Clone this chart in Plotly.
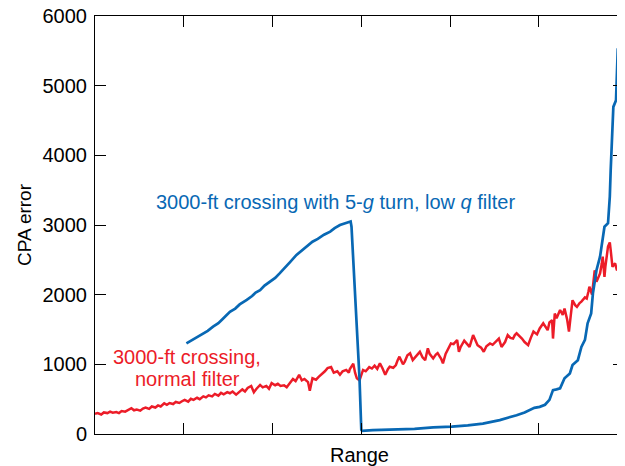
import plotly.graph_objects as go

# ---- data (x in arbitrary "Range" units, ticks at 1..5) ----
red_x = [0, .03, .07, .10, .14, .17, .20, .24, .27, .30, .34, .37, .41, .44, .47, .51, .54, .57, .61, .64,
         .68, .71, .74, .78, .81, .84, .88, .91, .95, .98, 1.01, 1.05, 1.08, 1.11, 1.15, 1.18, 1.22, 1.25, 1.28, 1.32,
         1.35, 1.39, 1.42, 1.45, 1.49, 1.52, 1.55, 1.59, 1.62, 1.66, 1.69, 1.72, 1.76, 1.79, 1.82, 1.86, 1.89, 1.93, 1.96, 1.99,
         2.03, 2.06, 2.09, 2.13, 2.16, 2.20, 2.23, 2.26, 2.30, 2.33, 2.36, 2.40, 2.42, 2.45, 2.49, 2.52, 2.56, 2.59, 2.62, 2.66,
         2.69, 2.73, 2.76, 2.79, 2.83, 2.86, 2.87, 2.91, 2.93, 2.95, 2.98, 3.02, 3.05, 3.09, 3.12, 3.15, 3.18, 3.21, 3.24, 3.27,
         3.30, 3.32, 3.36, 3.39, 3.41, 3.43, 3.47, 3.49, 3.52, 3.55, 3.58, 3.60, 3.64, 3.66, 3.69, 3.72, 3.75, 3.77, 3.81, 3.84,
         3.86, 3.90, 3.92, 3.95, 3.98, 4.01, 4.04, 4.08, 4.10, 4.12, 4.16, 4.19, 4.22, 4.26, 4.29, 4.31, 4.35, 4.38, 4.41, 4.45,
         4.48, 4.52, 4.55, 4.58, 4.62, 4.65, 4.68, 4.71, 4.73, 4.75, 4.79, 4.81, 4.84, 4.88, 4.91, 4.94, 4.98, 5.01, 5.05, 5.08,
         5.10, 5.12, 5.15, 5.16, 5.18, 5.20, 5.24, 5.27, 5.29, 5.32, 5.34, 5.36, 5.38, 5.41, 5.43, 5.46, 5.48, 5.52, 5.54, 5.56,
         5.57, 5.60, 5.62, 5.63, 5.65, 5.68, 5.69, 5.71, 5.72, 5.74, 5.75, 5.78, 5.80, 5.81, 5.83, 5.86, 5.88, 5.90, 5.91, 5.93,
         5.95, 5.96]
red_y = [290, 300, 280, 310, 300, 320, 305, 315, 300, 330, 320, 345, 370, 340, 350, 335, 365, 380, 360, 395,
         380, 410, 395, 440, 420, 445, 430, 460, 445, 470, 490, 465, 505, 490, 520, 500, 540, 525, 555, 540,
         575, 550, 590, 570, 600, 585, 610, 565, 600, 640, 610, 660, 690, 600, 650, 705, 670, 690, 650, 730,
         700, 720, 690, 700, 670, 740, 790, 760, 850, 770, 790, 745, 620, 800, 780, 820, 860, 900, 945, 960,
         880, 900, 850, 900, 920, 880, 930, 1010, 880, 800, 770, 920, 900, 960, 940, 980, 935, 1015, 940, 850,
         930, 965, 950, 990, 1060, 1110, 1000, 1040, 1130, 1160, 1060, 1085, 1150, 1180, 1100, 1060, 1230, 1150, 1085, 1140,
         1160, 1080, 1015, 1150, 1230, 1300, 1290, 1350, 1180, 1250, 1340, 1300, 1250, 1420, 1330, 1275, 1240, 1180, 1260, 1300,
         1280, 1340, 1370, 1250, 1320, 1420, 1380, 1370, 1420, 1445, 1400, 1370, 1320, 1275, 1380, 1470, 1430, 1515, 1590, 1520,
         1490, 1600, 1635, 1370, 1730, 1660, 1780, 1710, 1800, 1640, 1470, 1700, 1920, 1850, 1825, 1880, 1900, 1960, 1945, 2050,
         2115, 2000, 2250, 2350, 2185, 2280, 2305, 2450, 2545, 2255, 2400, 2690, 2750, 2640, 2400, 2450, 2350, 2380, 2280, 2065,
         2100, 2040]

blue_x = [1.03, 1.10, 1.16, 1.22, 1.27, 1.33, 1.39, 1.43, 1.48, 1.52, 1.58, 1.63, 1.71, 1.77, 1.81, 1.86, 1.91, 1.97, 2.03, 2.08,
          2.14, 2.20, 2.27, 2.33, 2.39, 2.45, 2.51, 2.58, 2.65, 2.70, 2.76, 2.81, 2.88, 2.89, 2.91, 2.93, 2.95, 2.96, 2.98, 3.00,
          3.01, 3.13, 3.27, 3.43, 3.60, 3.81, 4.02, 4.20, 4.37, 4.56, 4.67, 4.75, 4.84, 4.90, 4.95, 5.01, 5.07, 5.12, 5.16, 5.20,
          5.24, 5.29, 5.35, 5.38, 5.44, 5.48, 5.52, 5.55, 5.59, 5.61, 5.65, 5.69, 5.72, 5.74, 5.78, 5.80, 5.81, 5.83, 5.84, 5.87,
          5.88, 5.89, 5.90, 5.91, 5.92, 5.95, 5.96]
blue_y = [1300, 1350, 1400, 1445, 1480, 1540, 1590, 1640, 1700, 1755, 1800, 1860, 1925, 1980, 2030, 2065, 2130, 2190, 2240, 2305,
          2380, 2470, 2570, 2630, 2700, 2760, 2800, 2860, 2905, 2955, 3000, 3020, 3050, 2975, 2495, 2020, 1540, 1250, 800, 60,
          45, 55, 60, 65, 75, 95, 105, 125, 150, 200, 235, 270, 310, 345, 375, 390, 420, 490, 630, 640,
          655, 800, 870, 990, 1060, 1250, 1350, 1590, 1730, 2020, 2350, 2545, 2785, 2975, 3025, 3405, 3790, 4265, 4695, 4790,
          5225, 5535, 5180, 5510, 5125, 5465, 5320]

y_ticks = [0, 1000, 2000, 3000, 4000, 5000, 6000]
x_ticks = [1, 2, 3, 4, 5]

RED = "#ec1c28"
BLUE = "#0868b4"
FONT = "Liberation Sans, Arial, Helvetica, sans-serif"

fig = go.Figure()
fig.add_trace(go.Scatter(x=red_x, y=red_y, mode="lines", line=dict(color=RED, width=2.5), showlegend=False))
fig.add_trace(go.Scatter(x=blue_x, y=blue_y, mode="lines", line=dict(color=BLUE, width=2.7), showlegend=False))

fig.add_annotation(x=2.71, y=3330, text="3000-ft crossing with 5-<i>g</i> turn, low <i>q</i> filter",
                   showarrow=False, font=dict(family=FONT, size=20, color=BLUE), xanchor="center", yanchor="middle")
fig.add_annotation(x=1.04, y=1110, text="3000-ft crossing,", showarrow=False,
                   font=dict(family=FONT, size=20, color=RED), xanchor="center", yanchor="middle")
fig.add_annotation(x=1.04, y=785, text="normal filter", showarrow=False,
                   font=dict(family=FONT, size=20, color=RED), xanchor="center", yanchor="middle")

fig.update_layout(
    width=617, height=458,
    margin=dict(l=87, r=1, t=8, b=32, autoexpand=False),
    paper_bgcolor="white", plot_bgcolor="white",
    font=dict(family=FONT, size=20, color="black"),
)
fig.update_xaxes(range=[0, 5.96], tickvals=x_ticks, showticklabels=False, ticks="inside", ticklen=11,
                 tickcolor="black", tickwidth=1, showline=True, linecolor="black", linewidth=1, mirror="ticks",
                 showgrid=False, zeroline=False, automargin=False,
                 title=dict(text="Range", font=dict(family=FONT, size=20), standoff=13))
fig.update_yaxes(range=[0, 6000], tickvals=y_ticks, ticks="inside", ticklen=11,
                 tickcolor="black", tickwidth=1, showline=True, linecolor="black", linewidth=1, mirror="ticks",
                 showgrid=False, zeroline=False, tickfont=dict(family=FONT, size=20), ticklabelstandoff=3,
                 ticklabeloverflow="allow", automargin=False,
                 title=dict(text="CPA error", font=dict(family=FONT, size=19), standoff=5))

fig.write_html("out.html")
